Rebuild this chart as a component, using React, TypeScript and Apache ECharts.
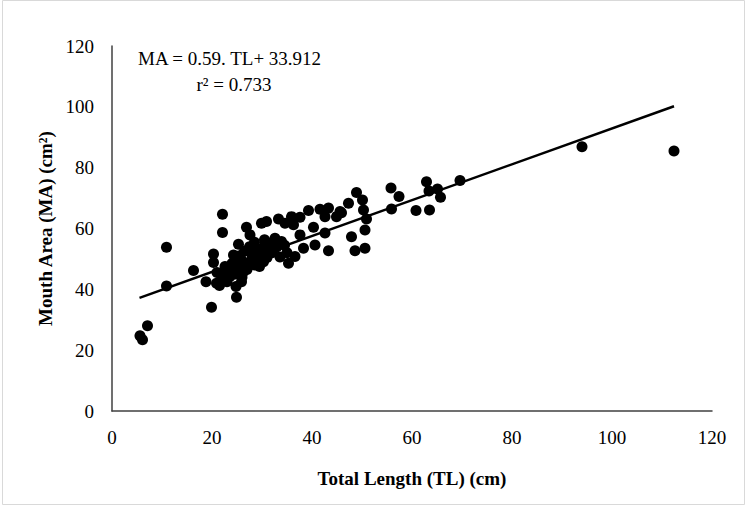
import React, { useEffect, useRef } from "react";
import * as echarts from "echarts";

const X_TICKS = [0, 20, 40, 60, 80, 100, 120];
const Y_TICKS = [0, 20, 40, 60, 80, 100, 120];

const TOTAL_LENGTH: number[] = [
  5.6, 6.1, 7.1, 10.9, 10.9, 16.3,
  19.9, 20.3, 20.3, 18.8, 20.9, 21.5, 22.1, 22.1,
  24.8, 24.9, 25.3, 24.3, 22.6, 21.9, 23.6, 26.3, 27.3, 27.9, 28.9, 29.9, 30.6, 32.3, 25.9,
  26.9, 27.6, 29.9, 30.9,
  23.0, 24.0, 25.0, 26.0, 25.5, 26.5, 27.0, 28.0, 28.5, 29.0, 29.5, 30.0, 31.0, 31.5, 32.0, 33.0,
  27.5, 28.5, 26.0, 24.5, 22.0, 23.0, 21.0, 30.5, 32.6, 33.9, 29.9, 31.6, 33.6, 30.3, 34.5, 35.0,
  24.0, 25.0, 26.5, 28.0, 29.0, 31.0, 32.5,
  33.3, 34.6, 35.9, 36.3, 37.6, 39.3, 41.6, 43.3, 42.6, 44.9, 45.6, 47.3, 48.9, 40.3, 37.6, 42.6,
  40.6, 38.3, 36.6, 35.3, 43.3, 47.9, 48.6,
  45.9, 50.1, 50.3, 50.9, 50.6, 50.6,
  55.8, 57.4, 55.9, 60.8, 62.9, 63.4, 65.1, 65.7, 63.5, 69.6, 94.0, 112.4,
];

const MOUTH_AREA: number[] = [
  24.7, 23.4, 28.0, 53.8, 41.1, 46.2,
  34.1, 51.6, 48.8, 42.5, 42.0, 41.3, 64.7, 58.7,
  40.9, 37.4, 54.8, 51.3, 47.5, 44.7, 44.2, 45.8, 48.6, 51.9, 53.5, 50.2, 54.6, 55.7, 42.5,
  60.4, 57.9, 61.7, 62.3,
  46.0, 48.5, 47.0, 49.5, 51.0, 52.5, 46.5, 50.0, 48.0, 52.0, 47.5, 49.0, 51.0, 53.5, 52.0, 54.0,
  54.0, 55.5, 44.0, 45.0, 43.0, 42.5, 45.5, 56.3, 56.8, 55.7, 53.0, 52.4, 50.6, 49.1, 54.5, 52.0,
  46.5, 49.5, 47.5, 51.5, 49.5, 50.5, 53.5,
  63.1, 61.7, 63.9, 61.2, 63.7, 65.9, 66.3, 66.7, 63.9, 63.9, 65.6, 68.3, 71.8, 60.4, 57.9, 58.5,
  54.6, 53.5, 50.8, 48.6, 52.7, 57.3, 52.7,
  65.2, 69.4, 66.1, 63.1, 59.5, 53.5,
  73.3, 70.5, 66.4, 65.9, 75.4, 72.3, 73.0, 70.3, 66.1, 75.8, 86.9, 85.5,
];

const TREND_X = [5.5, 112.4];
const TREND_Y = [37.2, 100.2];

const EQUATION = "MA = 0.59. TL+ 33.912";
const R_SQUARED = "r² = 0.733";
const X_TITLE = "Total Length (TL) (cm)";
const Y_TITLE = "Mouth Area (MA) (cm²)";

const FONT = "'Liberation Serif', 'Times New Roman', serif";

export default function App() {
  const ref = useRef<HTMLDivElement>(null);
  useEffect(() => {
    if (!ref.current) return;
    const chart = echarts.init(ref.current, null, { renderer: "svg" });
    const points = TOTAL_LENGTH.map((x, i) => [x, MOUTH_AREA[i]]);
    const trend = TREND_X.map((x, i) => [x, TREND_Y[i]]);
    chart.setOption({
      animation: false,
      backgroundColor: "#ffffff",
      grid: { left: 112, right: 35, top: 46, bottom: 95 },
      xAxis: {
        type: "value",
        min: X_TICKS[0],
        max: X_TICKS[X_TICKS.length - 1],
        interval: 20,
        name: X_TITLE,
        nameLocation: "middle",
        nameGap: 58,
        nameTextStyle: { fontFamily: FONT, fontSize: 19, fontWeight: "bold", color: "#000" },
        axisLine: { show: true, lineStyle: { color: "#404040", width: 1.5 } },
        axisTick: { show: false },
        splitLine: { show: false },
        axisLabel: { fontFamily: FONT, fontSize: 19, color: "#000", margin: 17 },
      },
      yAxis: {
        type: "value",
        min: Y_TICKS[0],
        max: Y_TICKS[Y_TICKS.length - 1],
        interval: 20,
        name: Y_TITLE,
        nameLocation: "middle",
        nameRotate: 90,
        nameGap: 56,
        nameTextStyle: { fontFamily: FONT, fontSize: 19, fontWeight: "bold", color: "#000" },
        axisLine: { show: true, lineStyle: { color: "#404040", width: 1.5 } },
        axisTick: { show: false },
        splitLine: { show: false },
        axisLabel: { fontFamily: FONT, fontSize: 19, color: "#000", margin: 18 },
      },
      series: [
        {
          type: "line",
          data: trend,
          symbol: "none",
          lineStyle: { color: "#000", width: 2.5 },
          z: 3,
        },
        {
          type: "scatter",
          data: points,
          symbolSize: 11,
          itemStyle: { color: "#000", opacity: 1 },
          z: 2,
        },
      ],
      graphic: [
        {
          type: "rect",
          shape: { x: 2.5, y: 0.5, width: 742, height: 504 },
          style: { fill: "none", stroke: "#d9d9d9", lineWidth: 1 },
          silent: true,
        },
        {
          type: "text",
          left: 138,
          top: 49,
          style: { text: EQUATION, font: `19px ${FONT}`, fill: "#000" },
        },
        {
          type: "text",
          x: 234,
          y: 84,
          style: { text: R_SQUARED, font: `19px ${FONT}`, fill: "#000", align: "center", verticalAlign: "middle" },
        },
      ],
    });
    return () => chart.dispose();
  }, []);
  return <div ref={ref} style={{ position: "fixed", left: 0, top: 0, width: 747, height: 506 }} />;
}
